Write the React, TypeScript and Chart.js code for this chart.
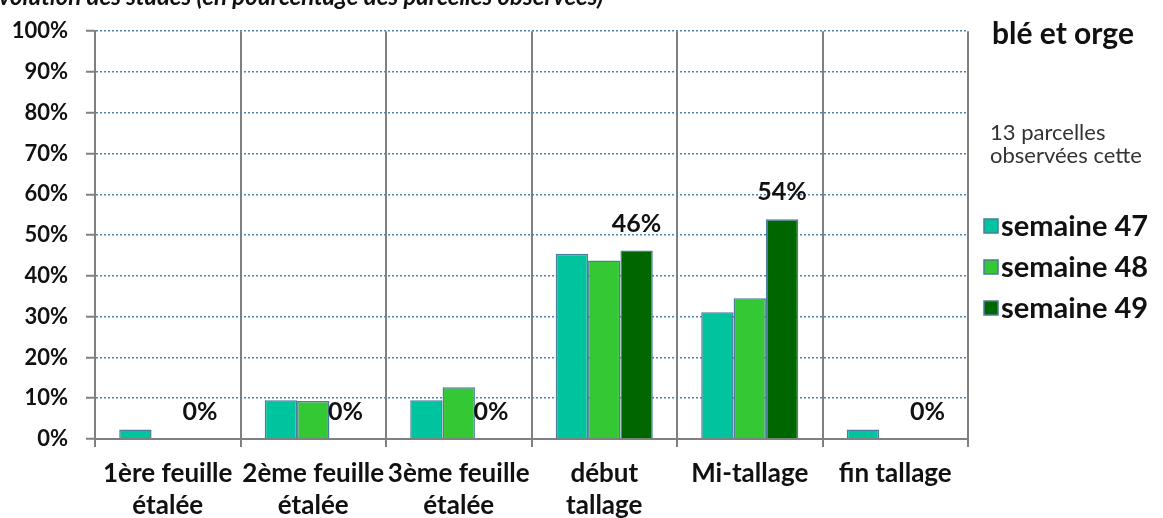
import React, { useEffect, useRef } from "react";
import { Chart, registerables } from "chart.js";

Chart.register(...registerables);

const TITLE = "Évolution des stades (en pourcentage des parcelles observées)";
const SIDE_TITLE = "blé et orge";
const SIDE_NOTE = ["13 parcelles", "observées cette"];
const CATEGORIES: (string | string[])[] = [
  ["1ère feuille", "étalée"],
  ["2ème feuille", "étalée"],
  ["3ème feuille", "étalée"],
  ["début", "tallage"],
  "Mi-tallage",
  "fin tallage",
];
const SERIES = ["semaine 47", "semaine 48", "semaine 49"];
const S47 = [2.3, 9.5, 9.5, 45.4, 31.1, 2.3];
const S48 = [0, 9.3, 12.7, 43.8, 34.5, 0];
const S49 = [0, 0, 0, 46.2, 53.9, 0];
const Y_TICKS = [0, 10, 20, 30, 40, 50, 60, 70, 80, 90, 100];
const COLORS = ["#00C49E", "#35C835", "#006600"];
const BORDER = "#4A7C9E";
const FONT = "Lato";

const overlayPlugin = {
  id: "overlay",
  afterDatasetsDraw(chart: any) {
    const ctx = chart.ctx;
    const meta = chart.getDatasetMeta(2);
    ctx.save();
    ctx.fillStyle = "#111";
    ctx.font = `bold 25px ${FONT}`;
    ctx.textAlign = "center";
    ctx.textBaseline = "middle";
    meta.data.forEach((el: any, i: number) => {
      ctx.fillText(`${Math.round(S49[i])}%`, el.x, el.y - 27);
    });
    ctx.restore();
  },
  afterDraw(chart: any) {
    const ctx = chart.ctx;
    ctx.save();
    // cropped title
    ctx.fillStyle = "#111";
    ctx.font = `italic bold 24px ${FONT}`;
    ctx.textAlign = "left";
    ctx.textBaseline = "alphabetic";
    const first = ctx.measureText("É").width;
    ctx.fillText(TITLE, -first - 1, 5);
    // side title
    ctx.font = `bold 30px ${FONT}`;
    ctx.fillText(SIDE_TITLE, 992, 44);
    ctx.fillStyle = "#333";
    ctx.font = `22px ${FONT}`;
    ctx.textBaseline = "middle";
    ctx.fillText(SIDE_NOTE[0], 990, 133);
    ctx.fillText(SIDE_NOTE[1], 990, 156);
    // legend
    const rows = [226, 267, 308];
    SERIES.forEach((name, i) => {
      const y = rows[i];
      ctx.fillStyle = COLORS[i];
      ctx.fillRect(984, y - 7, 14, 14);
      ctx.strokeStyle = BORDER;
      ctx.lineWidth = 1.5;
      ctx.strokeRect(984, y - 7, 14, 14);
      ctx.fillStyle = "#111";
      ctx.font = `bold 29px ${FONT}`;
      ctx.textBaseline = "middle";
      ctx.fillText(name, 1001, y + 1);
    });
    ctx.restore();
  },
};

export default function App() {
  const ref = useRef<HTMLCanvasElement>(null);
  useEffect(() => {
    if (!ref.current) return;
    Chart.defaults.font.family = FONT;
    const chart = new Chart(ref.current, {
      type: "bar",
      data: {
        labels: CATEGORIES,
        datasets: SERIES.map((name, i) => ({
          label: name,
          data: [S47, S48, S49][i],
          backgroundColor: COLORS[i],
          borderColor: BORDER,
          borderWidth: 1.5,
          borderSkipped: "bottom",
          categoryPercentage: 0.667,
          barPercentage: 1.0,
        })),
      },
      options: {
        animation: false,
        responsive: true,
        maintainAspectRatio: false,
        layout: { padding: { top: 28, right: 195, left: 0, bottom: 0 } },
        plugins: {
          legend: { display: false },
          tooltip: { enabled: false },
        },
        scales: {
          x: {
            afterFit: (s: any) => {
              s.height = 79;
            },
            grid: {
              offset: true,
              color: "#808080",
              lineWidth: 2,
              tickLength: 8,
            },
            border: { color: "#808080", width: 2 },
            ticks: {
              color: "#111",
              font: { size: 26, weight: "bold", lineHeight: 1.23 },
              padding: 11,
              maxRotation: 0,
              autoSkip: false,
            },
          },
          y: {
            min: 0,
            max: 100,
            afterFit: (s: any) => {
              s.width = 95;
            },
            afterBuildTicks: (s: any) => {
              s.ticks = Y_TICKS.map((v) => ({ value: v }));
            },
            grid: {
              color: "#4F82B4",
              lineWidth: 1.5,
              tickLength: 9,
              tickColor: "#808080",
              tickWidth: 2,
            },
            border: { color: "#808080", width: 2, dash: [2, 2] },
            ticks: {
              color: "#111",
              font: { size: 22, weight: "bold" },
              padding: 18,
              callback: (v: any) => `${v}%`,
            },
          },
        },
      },
      plugins: [overlayPlugin],
    });
    return () => chart.destroy();
  }, []);
  return (
    <div style={{ position: "absolute", left: 0, top: 0, width: 1163, height: 518, background: "#fff" }}>
      <canvas ref={ref} />
    </div>
  );
}
